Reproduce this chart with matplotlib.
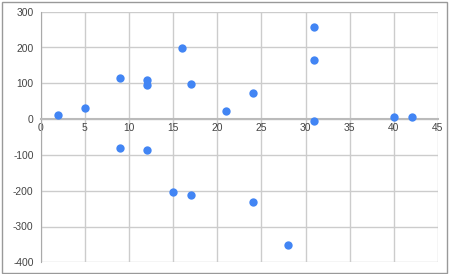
import matplotlib
matplotlib.use("Agg")
import matplotlib.pyplot as plt
from matplotlib.patches import Rectangle

x_vals = [2, 5, 9, 12, 12, 16, 17, 21, 24, 31, 31, 31, 40, 42, 9, 12, 15, 17, 24, 28]
y_vals = [12, 30, 115, 110, 94, 199, 98, 24, 72, 258, 164, -5, 5, 7, -82, -87, -205, -212, -231, -351]
x_ticks = [0, 5, 10, 15, 20, 25, 30, 35, 40, 45]
y_ticks = [-400, -300, -200, -100, 0, 100, 200, 300]

plt.rcParams['font.family'] = ['Liberation Sans', 'DejaVu Sans']

fig = plt.figure(figsize=(4.5, 2.74), dpi=100)
fig.patch.set_facecolor('white')
fig.patches.append(Rectangle((1.5/450, 1.5/274), 445/450, 271/274, transform=fig.transFigure,
                             fill=False, edgecolor='#999999', linewidth=1.0))

ax = fig.add_axes([40.5/450, 1 - 262.3/274, (438 - 40.5)/450, (262.3 - 11.7)/274])
ax.set_xlim(0, 45)
ax.set_ylim(-400, 300)
ax.set_xticks(x_ticks)
ax.set_yticks(y_ticks)
ax.set_xticklabels([str(t) for t in x_ticks])
ax.set_yticklabels([str(t) for t in y_ticks])
ax.grid(True, color='#cccccc', linewidth=1.0)
ax.set_axisbelow(True)
for s in ['top', 'right']:
    ax.spines[s].set_visible(False)
ax.spines['left'].set_color('#aaaaaa')
ax.spines['bottom'].set_position(('data', 0))
ax.spines['bottom'].set_color('#bbbbbb')
ax.spines['bottom'].set_linewidth(1.5)
ax.tick_params(axis='both', length=0, labelsize=7.4, labelcolor='#444444')
ax.tick_params(axis='x', pad=3)
ax.tick_params(axis='y', pad=5)

ax.scatter(x_vals, y_vals, s=36, color='#4285F4', zorder=3, linewidths=0)

fig.savefig('out.png', dpi=100)
